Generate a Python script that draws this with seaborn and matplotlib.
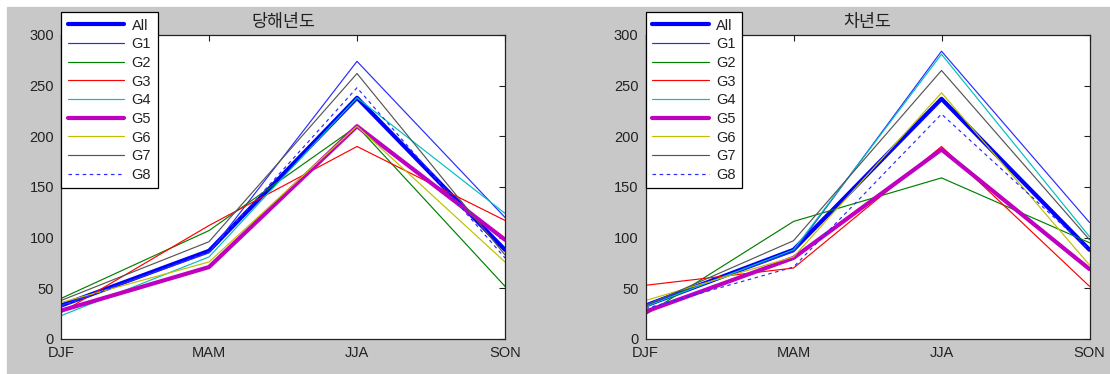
import matplotlib.pyplot as plt
import matplotlib.patches as patches
import pandas as pd
import seaborn as sns

seasons = ['DJF', 'MAM', 'JJA', 'SON']
groups = ['All', 'G1', 'G2', 'G3', 'G4', 'G5', 'G6', 'G7', 'G8']
titles = ['당해년도', '차년도']

# values: one list per group, DJF..SON
this_year = {
    'All': [33, 87, 238, 88],
    'G1': [33, 85, 274, 120],
    'G2': [40, 107, 210, 52],
    'G3': [26, 112, 190, 117],
    'G4': [23, 81, 238, 124],
    'G5': [28, 71, 210, 98],
    'G6': [36, 76, 210, 76],
    'G7': [38, 96, 262, 83],
    'G8': [32, 86, 248, 80],
}
next_year = {
    'All': [33, 88, 237, 88],
    'G1': [34, 86, 284, 115],
    'G2': [24, 116, 159, 95],
    'G3': [53, 70, 190, 52],
    'G4': [32, 88, 281, 101],
    'G5': [27, 80, 187, 69],
    'G6': [38, 81, 243, 73],
    'G7': [33, 97, 265, 98],
    'G8': [30, 71, 222, 88],
}

colors = {'All': '#0000ff', 'G1': '#2a2aff', 'G2': '#008000', 'G3': '#ff0000',
          'G4': '#00bfbf', 'G5': '#bf00bf', 'G6': '#bfbf00', 'G7': '#555555',
          'G8': '#2a2aff'}
widths = {g: 0.85 for g in groups}
widths['All'] = 3.0
widths['G5'] = 3.0
styles = {g: '-' for g in groups}
styles['G8'] = (0, (3, 3))

sns.set_style('white')
plt.rcParams['font.family'] = ['Liberation Sans', 'Noto Sans CJK KR', 'DejaVu Sans']

fig = plt.figure(figsize=(11.1, 3.74), dpi=100, facecolor='white')
fig.patches.append(patches.Rectangle((7 / 1110, 0), 1, (374 - 7) / 374,
                                     transform=fig.transFigure, color='#c8c8c8', zorder=-10))

lefts = [61 / 1110, 645.5 / 1110]
for k, data in enumerate([this_year, next_year]):
    ax = fig.add_axes([lefts[k], 35 / 374, 444 / 1110, 304 / 374])
    ax.set_facecolor('white')
    for g in groups:
        df = pd.DataFrame({'season': seasons, 'value': data[g]})
        sns.lineplot(data=df, x='season', y='value', ax=ax, color=colors[g],
                     linewidth=widths[g], linestyle=styles[g], label=g, sort=False)
    ax.set_xlim(0, 3)
    ax.set_ylim(0, 300)
    ax.set_yticks(range(0, 301, 50))
    ax.set_xlabel('')
    ax.set_ylabel('')
    ax.tick_params(direction='in', length=4, width=0.8, top=True, right=True,
                   labelsize=10.5, labelcolor='#222222', color='#222222', pad=5)
    for s in ax.spines.values():
        s.set_color('#222222')
        s.set_linewidth(0.9)
    ax.set_title(titles[k], fontsize=12.5, pad=6, color='#222222',
                 family=['Noto Sans CJK KR', 'DejaVu Sans'])
    leg = ax.legend(loc='upper left', bbox_to_anchor=(0, (339 - 12) / 304),
                    borderaxespad=0, frameon=True, fancybox=False, framealpha=1,
                    edgecolor='black', fontsize=10.5, handlelength=3.9,
                    handletextpad=0.5, labelspacing=0.32, borderpad=0.45)
    leg.get_frame().set_linewidth(0.9)
    for t in leg.get_texts():
        t.set_color('#222222')

fig.savefig('out.png', dpi=100, facecolor=fig.get_facecolor())
